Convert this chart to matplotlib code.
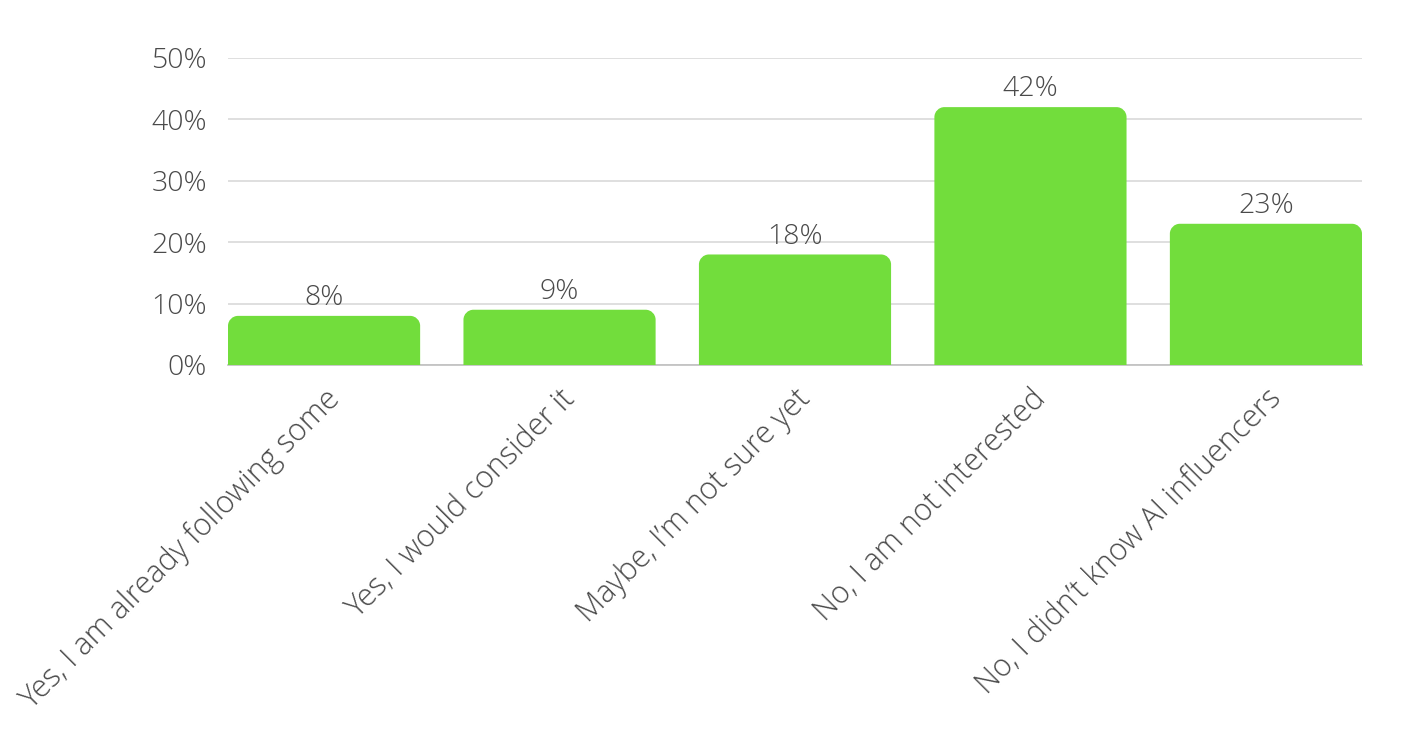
import matplotlib
matplotlib.use("Agg")
import matplotlib.pyplot as plt
from matplotlib.path import Path
from matplotlib.patches import PathPatch

categories = [
    "Yes, I am already following some",
    "Yes, I would consider it",
    "Maybe, I\u2019m not sure yet",
    "No, I am not interested",
    "No, I didn\u2019t know AI influencers",
]
values = [8, 9, 18, 42, 23]
yticks = [0, 10, 20, 30, 40, 50]

bar_color = "#72dd3c"
text_color = "#4a4a4a"
font = ["Open Sans", "DejaVu Sans"]
fsize = 20.5
xsize = 22

fig = plt.figure(figsize=(14.06, 7.33), dpi=100)
ax = fig.add_axes([228 / 1406, 368 / 733, 1134 / 1406, 307 / 733])

width = 0.816
ax.set_xlim(-width / 2, len(categories) - 1 + width / 2)
ax.set_ylim(0, 50)

# corner radius 10 px, converted to data units on each axis
px_x = 1134 / (len(categories) - 1 + width)
px_y = 307 / 50
rx = 10 / px_x
ry = 10 / px_y
k = 0.5523  # bezier circle constant

bars = ax.bar(range(len(categories)), values, width=width, color=bar_color,
              zorder=3, linewidth=0)
for b in bars:
    x0, w, h = b.get_x(), b.get_width(), b.get_height()
    x1 = x0 + w
    verts = [
        (x0, 0), (x0, h - ry),
        (x0, h - ry + k * ry), (x0 + rx - k * rx, h), (x0 + rx, h),
        (x1 - rx, h),
        (x1 - rx + k * rx, h), (x1, h - ry + k * ry), (x1, h - ry),
        (x1, 0), (x0, 0),
    ]
    codes = [Path.MOVETO, Path.LINETO,
             Path.CURVE4, Path.CURVE4, Path.CURVE4,
             Path.LINETO,
             Path.CURVE4, Path.CURVE4, Path.CURVE4,
             Path.LINETO, Path.CLOSEPOLY]
    b.set_visible(False)
    ax.add_patch(PathPatch(Path(verts, codes), facecolor=bar_color,
                           edgecolor="none", zorder=3))
    ax.text(x0 + w / 2, h + 0.6, f"{h:g}%", ha="center", va="bottom",
            fontsize=fsize, color=text_color, family=font, fontweight="light",
            zorder=4)

ax.set_yticks(yticks)
ax.set_yticklabels([f"{t}%" for t in yticks], fontsize=fsize, color=text_color,
                   family=font, fontweight="light")
ax.set_xticks(range(len(categories)))
ax.set_xticklabels(categories, rotation=45, ha="right", rotation_mode="anchor",
                   fontsize=xsize, color=text_color, family=font,
                   fontweight="light")
ax.tick_params(axis="both", length=0)
ax.tick_params(axis="y", pad=15)
ax.tick_params(axis="x", pad=13)

ax.grid(axis="y", color="#d9d9d9", linewidth=1.2, zorder=0)
for s in ["top", "right", "left"]:
    ax.spines[s].set_visible(False)
ax.spines["bottom"].set_color("#bfbfbf")
ax.spines["bottom"].set_linewidth(1.2)
ax.spines["bottom"].set_zorder(2)

fig.savefig("out.png", dpi=100)
